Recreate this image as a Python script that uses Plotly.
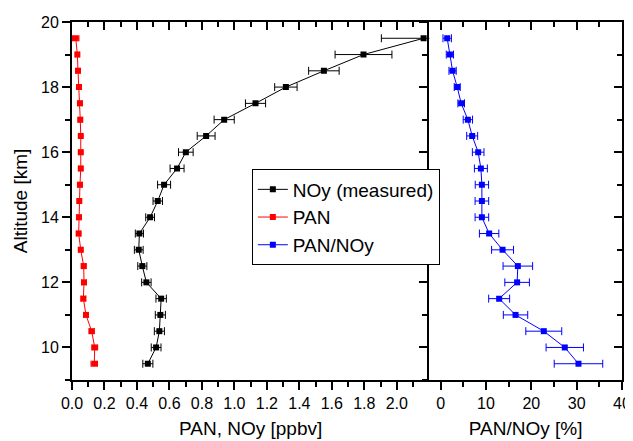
import plotly.graph_objects as go

altitude = [19.5, 19.0, 18.5, 18.0, 17.5, 17.0, 16.5, 16.0, 15.5, 15.0, 14.5,
            14.0, 13.5, 13.0, 12.5, 12.0, 11.5, 11.0, 10.5, 10.0, 9.5]
noy = [2.165, 1.795, 1.551, 1.317, 1.130, 0.937, 0.826, 0.701, 0.647, 0.567, 0.528,
       0.481, 0.415, 0.411, 0.433, 0.458, 0.549, 0.544, 0.538, 0.518, 0.467]
noy_err = [0.26, 0.175, 0.094, 0.069, 0.062, 0.062, 0.055, 0.045, 0.043, 0.040, 0.029,
           0.027, 0.025, 0.027, 0.028, 0.029, 0.032, 0.031, 0.031, 0.030, 0.031]
pan = [0.023, 0.033, 0.037, 0.043, 0.049, 0.051, 0.054, 0.054, 0.054, 0.049, 0.045,
       0.043, 0.041, 0.054, 0.072, 0.074, 0.070, 0.086, 0.121, 0.140, 0.137]
pan_err = [0.02, 0.012, 0.012, 0.012, 0.012, 0.012, 0.012, 0.012, 0.012, 0.012, 0.012,
           0.012, 0.012, 0.012, 0.014, 0.014, 0.014, 0.014, 0.016, 0.018, 0.02]
ratio = [1.45, 2.05, 2.64, 3.66, 4.54, 6.01, 6.96, 8.28, 8.88, 9.10, 9.10,
         9.10, 10.7, 13.66, 17.03, 16.87, 12.91, 16.52, 22.75, 27.38, 30.40]
ratio_err = [0.93, 0.8, 0.8, 0.66, 0.73, 1.03, 1.21, 1.28, 1.43, 1.47, 1.5,
             1.5, 2.14, 2.42, 3.26, 2.71, 2.31, 2.69, 3.96, 4.12, 5.35]

x1_ticks = [0.0, 0.2, 0.4, 0.6, 0.8, 1.0, 1.2, 1.4, 1.6, 1.8, 2.0]
x1_minor = [0.1, 0.3, 0.5, 0.7, 0.9, 1.1, 1.3, 1.5, 1.7, 1.9, 2.1]
x2_ticks = [0, 10, 20, 30, 40]
x2_minor = [5, 15, 25, 35]
y_ticks = [10, 12, 14, 16, 18, 20]
y_minor = [9, 11, 13, 15, 17, 19]

FONT = "Arial, Liberation Sans, sans-serif"
SPLIT = 0.6496

fig = go.Figure()

def err(arr, color, width=4):
    return dict(type="data", array=arr, symmetric=True, color=color,
                thickness=1, width=width)

fig.add_trace(go.Scatter(x=noy, y=altitude, name="NOy (measured)", mode="lines+markers",
                         line=dict(color="black", width=1),
                         marker=dict(symbol="square", size=6, color="black"),
                         error_x=err(noy_err, "black"), xaxis="x", yaxis="y"))
fig.add_trace(go.Scatter(x=pan, y=altitude, name="PAN", mode="lines+markers",
                         line=dict(color="red", width=1),
                         marker=dict(symbol="square", size=6, color="red"),
                         error_x=err(pan_err, "red", 3), xaxis="x", yaxis="y"))
fig.add_trace(go.Scatter(x=ratio, y=altitude, name="PAN/NOy", mode="lines+markers",
                         line=dict(color="blue", width=1),
                         marker=dict(symbol="square", size=6, color="blue"),
                         error_x=err(ratio_err, "blue"), xaxis="x2", yaxis="y2"))
# invisible helpers for mirrored axes
fig.add_trace(go.Scatter(x=[1], y=[15], mode="markers", marker=dict(opacity=0),
                         showlegend=False, hoverinfo="skip", xaxis="x3", yaxis="y"))
fig.add_trace(go.Scatter(x=[10], y=[15], mode="markers", marker=dict(opacity=0),
                         showlegend=False, hoverinfo="skip", xaxis="x4", yaxis="y2"))
fig.add_trace(go.Scatter(x=[10], y=[15], mode="markers", marker=dict(opacity=0),
                         showlegend=False, hoverinfo="skip", xaxis="x2", yaxis="y3"))

ax_common = dict(showline=True, linecolor="black", linewidth=2, showgrid=False,
                 zeroline=False, tickcolor="black", tickwidth=1.5, automargin=False,
                 tickfont=dict(family=FONT, size=16, color="black"))
TITLE_FONT = dict(family=FONT, size=19, color="black")

# page body has an 8px margin: figure is sized/offset to compensate
fig.update_layout(
    width=625, height=433,
    margin=dict(l=64, r=11, t=14, b=61, autoexpand=False),
    paper_bgcolor="white", plot_bgcolor="white",
    font=dict(family=FONT, color="black"),
    showlegend=True,
    legend=dict(x=0.327, y=0.588, xanchor="left", yanchor="top",
                bordercolor="black", borderwidth=1, bgcolor="white",
                font=dict(family=FONT, size=19, color="black"),
                tracegroupgap=0, entrywidth=198, entrywidthmode="pixels"),
    xaxis=dict(domain=[0, SPLIT], anchor="y", range=[0, 2.2], side="bottom",
               ticks="outside", ticklen=8, tickvals=x1_ticks,
               ticktext=[f"{v:.1f}" for v in x1_ticks],
               minor=dict(tickvals=x1_minor, ticks="outside", ticklen=5,
                          tickwidth=1.5, tickcolor="black"),
               title=dict(text="PAN, NOy [ppbv]", font=TITLE_FONT, standoff=10),
               **ax_common),
    xaxis3=dict(overlaying="x", anchor="y", range=[0, 2.2], side="top",
                ticks="inside", ticklen=8, tickvals=x1_ticks, showticklabels=False,
                minor=dict(tickvals=x1_minor, ticks="inside", ticklen=5,
                           tickwidth=1.5, tickcolor="black"),
                **ax_common),
    xaxis2=dict(domain=[SPLIT, 1], anchor="y2", range=[-2.5, 40], side="bottom",
                ticks="outside", ticklen=8, tickvals=x2_ticks,
                minor=dict(tickvals=x2_minor, ticks="outside", ticklen=5,
                           tickwidth=1.5, tickcolor="black"),
                title=dict(text="PAN/NOy [%]", font=TITLE_FONT, standoff=10),
                **ax_common),
    xaxis4=dict(overlaying="x2", anchor="y2", range=[-2.5, 40], side="top",
                ticks="inside", ticklen=8, tickvals=x2_ticks, showticklabels=False,
                minor=dict(tickvals=x2_minor, ticks="inside", ticklen=5,
                           tickwidth=1.5, tickcolor="black"),
                **ax_common),
    yaxis=dict(domain=[0, 1], anchor="x", range=[9, 20], side="left",
               ticks="outside", ticklen=8, tickvals=y_ticks,
               minor=dict(tickvals=y_minor, ticks="outside", ticklen=5,
                          tickwidth=1.5, tickcolor="black"),
               title=dict(text="Altitude [km]", font=TITLE_FONT, standoff=8),
               **ax_common),
    yaxis2=dict(domain=[0, 1], anchor="x2", range=[9, 20], side="left",
                ticks="outside", ticklen=8, tickvals=y_ticks, showticklabels=False,
                minor=dict(tickvals=y_minor, ticks="outside", ticklen=5,
                           tickwidth=1.5, tickcolor="black"),
                **ax_common),
    yaxis3=dict(overlaying="y2", anchor="x2", range=[9, 20], side="right",
                ticks="inside", ticklen=8, tickvals=y_ticks, showticklabels=False,
                minor=dict(tickvals=y_minor, ticks="inside", ticklen=5,
                           tickwidth=1.5, tickcolor="black"),
                **ax_common),
)

fig.write_html("out.html")
